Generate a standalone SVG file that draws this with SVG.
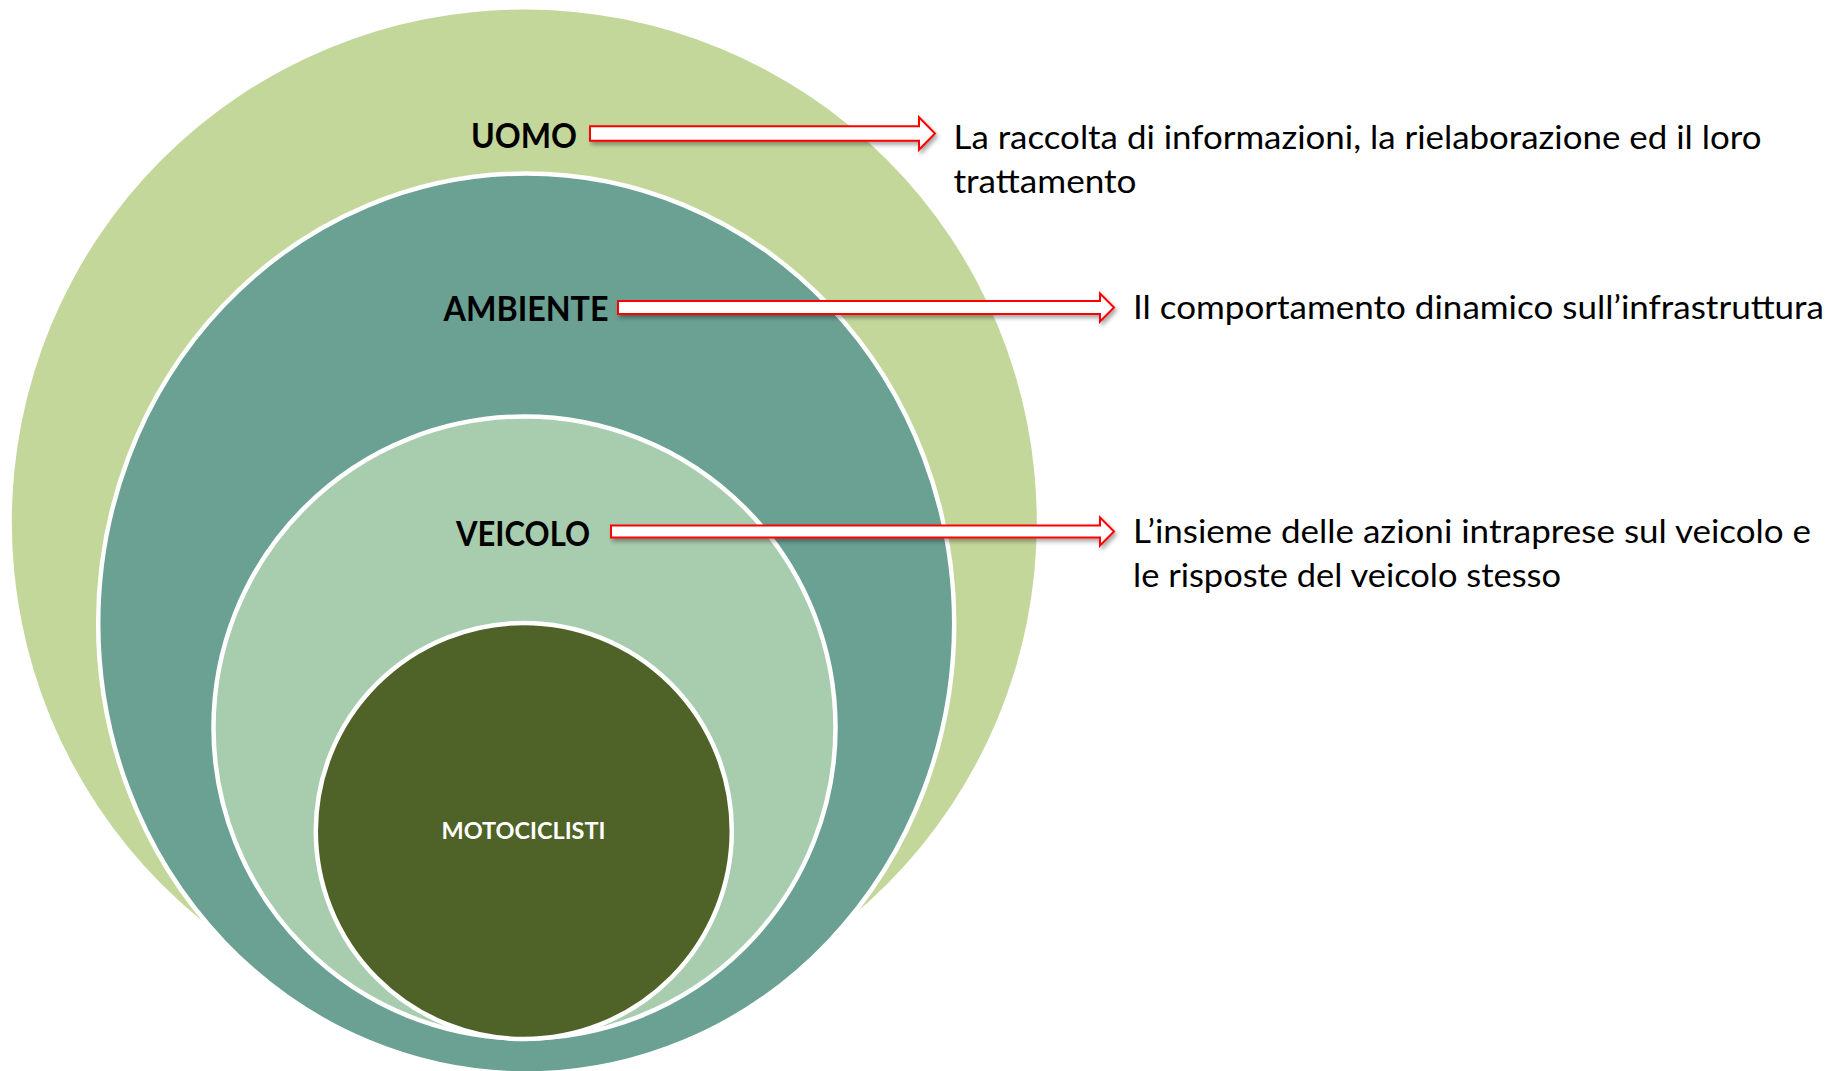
<svg xmlns="http://www.w3.org/2000/svg" width="1839" height="1071" viewBox="0 0 1839 1071">
<defs>
<filter id="shadow" x="-5%" y="-50%" width="110%" height="220%">
<feDropShadow dx="2" dy="3" stdDeviation="2" flood-color="#000" flood-opacity="0.35"/>
</filter>
</defs>
<style>
.ring{stroke:#ffffff;stroke-width:4.5}
.lbl{font-family:Lato,"Open Sans","Liberation Sans",sans-serif;font-weight:bold;font-size:33.5px;fill:#000;text-anchor:middle}
.desc{font-family:Lato,"Open Sans","Liberation Sans",sans-serif;font-size:33.5px;fill:#000}
.arrow{fill:#ffffff;stroke:#ff0000;stroke-width:2;stroke-linejoin:miter;filter:url(#shadow)}
</style>
<rect width="1839" height="1071" fill="#ffffff"/>
<g id="uomo">
<circle cx="524.3" cy="522" r="512.5" fill="#C4D79B"/>
</g>
<g id="ambiente">
<ellipse class="ring" cx="526.2" cy="623.5" rx="428" ry="450" fill="#6AA193"/>
</g>
<g id="veicolo">
<circle class="ring" cx="524.5" cy="727.5" r="311" fill="#A8CCAE"/>
</g>
<g id="motociclisti">
<circle class="ring" cx="523.8" cy="831" r="208" fill="#4F6228"/>
<text x="523.5" y="839" style="font-family:Lato,'Open Sans','Liberation Sans',sans-serif;font-weight:bold;font-size:23.5px;fill:#fff;text-anchor:middle" textLength="164" lengthAdjust="spacingAndGlyphs">MOTOCICLISTI</text>
</g>
<g id="labels">
<text class="lbl" x="524" y="147.5" textLength="106" lengthAdjust="spacingAndGlyphs">UOMO</text>
<text class="lbl" x="526" y="320.5" textLength="165" lengthAdjust="spacingAndGlyphs">AMBIENTE</text>
<text class="lbl" x="523" y="546" textLength="134" lengthAdjust="spacingAndGlyphs">VEICOLO</text>
</g>
<g id="connectors">
<path class="arrow" d="M590,126.3 H919 V117.3 L935,133.5 L919,149.7 V140.7 H590 Z"/>
<path class="arrow" d="M618,301 H1100 V293.5 L1114,307.5 L1100,321.5 V314 H618 Z"/>
<path class="arrow" d="M611,525.5 H1100 V517.5 L1114,531.5 L1100,545.5 V537.5 H611 Z"/>
</g>
<g id="desc-uomo">
<text class="desc" x="953.5" y="148.5" textLength="808" lengthAdjust="spacingAndGlyphs">La raccolta di informazioni, la rielaborazione ed il loro</text>
<text class="desc" x="953.5" y="193" textLength="183" lengthAdjust="spacingAndGlyphs">trattamento</text>
</g>
<g id="desc-ambiente">
<text class="desc" x="1133" y="318.5" textLength="691" lengthAdjust="spacingAndGlyphs">Il comportamento dinamico sull’infrastruttura</text>
</g>
<g id="desc-veicolo">
<text class="desc" x="1133" y="543" textLength="678" lengthAdjust="spacingAndGlyphs">L’insieme delle azioni intraprese sul veicolo e</text>
<text class="desc" x="1133" y="587" textLength="428" lengthAdjust="spacingAndGlyphs">le risposte del veicolo stesso</text>
</g>
</svg>
